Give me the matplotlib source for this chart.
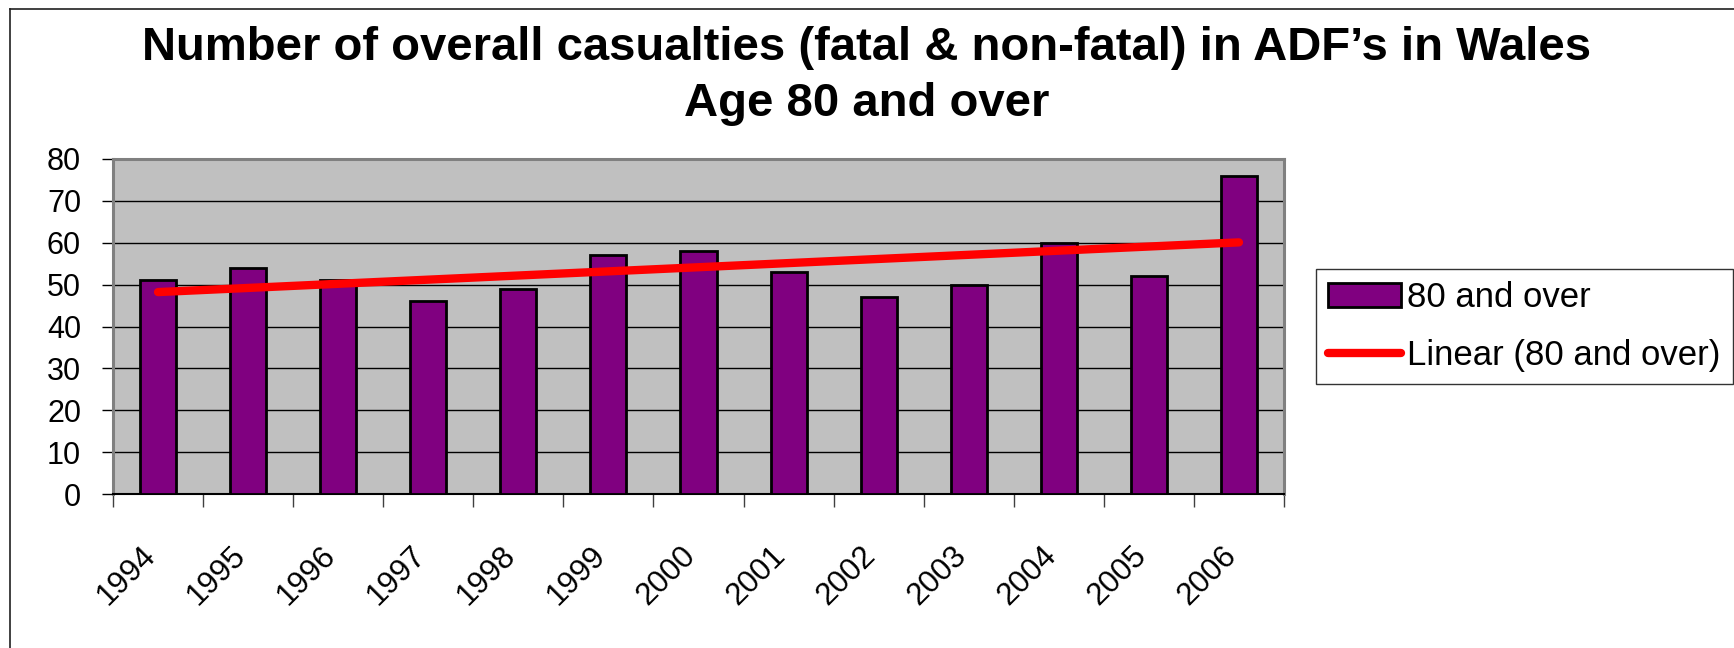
import numpy as np
import matplotlib
matplotlib.use("Agg")
import matplotlib.pyplot as plt
from matplotlib.lines import Line2D

years = ["1994", "1995", "1996", "1997", "1998", "1999", "2000",
         "2001", "2002", "2003", "2004", "2005", "2006"]
casualties = [51, 54, 51, 46, 49, 57, 58, 53, 47, 50, 60, 52, 76]
yticks = [0, 10, 20, 30, 40, 50, 60, 70, 80]

plt.rcParams["font.family"] = ["Liberation Sans", "DejaVu Sans"]

W, H = 1734, 648
fig = plt.figure(figsize=(W / 100, H / 100), dpi=100)

# axes placed in pixel terms of the reference
x0, x1, y0, y1 = 113, 1284, 159, 494
ax = fig.add_axes([x0 / W, 1 - y1 / H, (x1 - x0) / W, (y1 - y0) / H])
ax.set_facecolor("#C0C0C0")

x = np.arange(len(years))
bars = ax.bar(x, casualties, width=0.4, color="#800080", edgecolor="black",
              linewidth=2, zorder=3, label="80 and over")

# linear trend line fitted to the bars
slope, icpt = np.polyfit(x, casualties, 1)
trend, = ax.plot(x, slope * x + icpt, color="red", lw=6,
                 solid_capstyle="round", zorder=4, label="Linear (80 and over)")

ax.set_xlim(-0.5, len(years) - 0.5)
ax.set_ylim(0, 80)
ax.set_yticks(yticks)
ax.yaxis.grid(True, color="black", lw=1, zorder=1)
ax.set_axisbelow(True)
ax.tick_params(axis="y", length=8, width=1, pad=15, labelsize=22, direction="out")

# major ticks at category boundaries, labels as minor ticks
ax.set_xticks(np.arange(-0.5, len(years), 1.0))
ax.set_xticklabels([])
ax.tick_params(axis="x", which="major", length=9, width=1, color="#404040")
ax.set_xticks(x - 0.08, minor=True)
ax.set_xticklabels(years, minor=True, rotation=45, ha="right", va="center",
                   rotation_mode="anchor", fontsize=22.5)
ax.tick_params(axis="x", which="minor", length=0, pad=41)

for side in ["top", "right", "left"]:
    ax.spines[side].set_color("#808080")
    ax.spines[side].set_linewidth(2.2)
ax.spines["bottom"].set_color("black")
ax.spines["bottom"].set_linewidth(1.5)

fig.text(0.5, 1 - 60 / H, "Number of overall casualties (fatal & non-fatal) in ADF\u2019s in Wales",
         ha="center", va="baseline", fontsize=34, fontweight="bold")
fig.text(0.5, 1 - 116 / H, "Age 80 and over",
         ha="center", va="baseline", fontsize=34, fontweight="bold")

leg = fig.legend(handles=[bars, trend], loc="upper left",
                 bbox_to_anchor=(1316 / W, 1 - 269 / H), fontsize=25,
                 frameon=True, fancybox=False, shadow=False, borderaxespad=0,
                 handlelength=2.1, handletextpad=0.18, labelspacing=0.72,
                 borderpad=0.35)
leg.get_frame().set_edgecolor("black")
leg.get_frame().set_linewidth(1)

# outer chart border (left and top visible)
fig.add_artist(Line2D([10 / W, 10 / W], [0, 1 - 9 / H], color="#202020", lw=1.2))
fig.add_artist(Line2D([10 / W, 1], [1 - 9 / H, 1 - 9 / H], color="#202020", lw=1.2))

fig.savefig("out.png", dpi=100)
plt.close(fig)
